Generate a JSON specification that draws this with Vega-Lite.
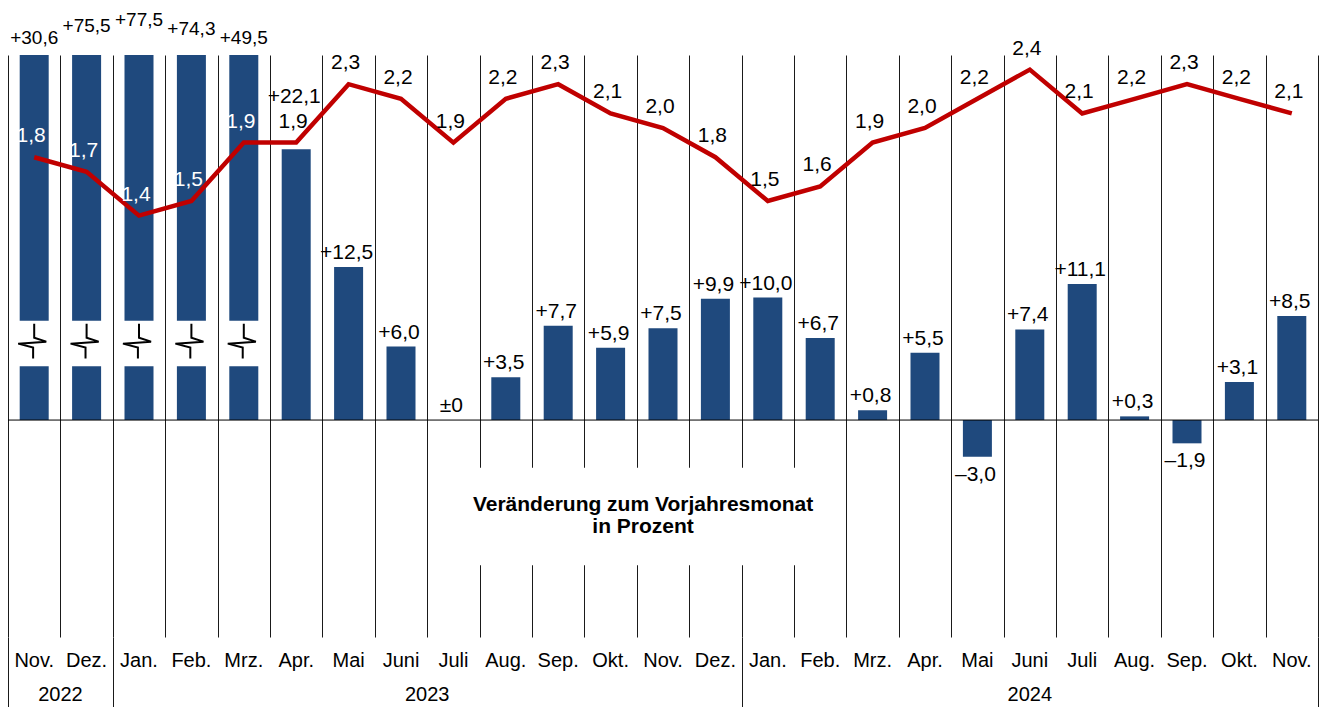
{
  "$schema": "https://vega.github.io/schema/vega-lite/v6.json",
  "width": 1310,
  "height": 582,
  "autosize": {"type": "none"},
  "padding": {"left": 8, "right": 10, "top": 55, "bottom": 70},
  "background": "white",
  "config": {
    "view": {"stroke": null},
    "font": "Liberation Sans",
    "locale": {"number": {"decimal": ",", "thousands": ".", "grouping": [3], "currency": ["", " €"], "minus": "–"}}
  },
  "data": {"values": [
    {"n": 1, "monat": "Nov.", "jahr": "2022", "v": 30.6, "inf": 1.8},
    {"n": 2, "monat": "Dez.", "jahr": "2022", "v": 75.5, "inf": 1.7},
    {"n": 3, "monat": "Jan.", "jahr": "2023", "v": 77.5, "inf": 1.4},
    {"n": 4, "monat": "Feb.", "jahr": "2023", "v": 74.3, "inf": 1.5},
    {"n": 5, "monat": "Mrz.", "jahr": "2023", "v": 49.5, "inf": 1.9},
    {"n": 6, "monat": "Apr.", "jahr": "2023", "v": 22.1, "inf": 1.9},
    {"n": 7, "monat": "Mai", "jahr": "2023", "v": 12.5, "inf": 2.3},
    {"n": 8, "monat": "Juni", "jahr": "2023", "v": 6.0, "inf": 2.2},
    {"n": 9, "monat": "Juli", "jahr": "2023", "v": 0.0, "inf": 1.9},
    {"n": 10, "monat": "Aug.", "jahr": "2023", "v": 3.5, "inf": 2.2},
    {"n": 11, "monat": "Sep.", "jahr": "2023", "v": 7.7, "inf": 2.3},
    {"n": 12, "monat": "Okt.", "jahr": "2023", "v": 5.9, "inf": 2.1},
    {"n": 13, "monat": "Nov.", "jahr": "2023", "v": 7.5, "inf": 2.0},
    {"n": 14, "monat": "Dez.", "jahr": "2023", "v": 9.9, "inf": 1.8},
    {"n": 15, "monat": "Jan.", "jahr": "2024", "v": 10.0, "inf": 1.5},
    {"n": 16, "monat": "Feb.", "jahr": "2024", "v": 6.7, "inf": 1.6},
    {"n": 17, "monat": "Mrz.", "jahr": "2024", "v": 0.8, "inf": 1.9},
    {"n": 18, "monat": "Apr.", "jahr": "2024", "v": 5.5, "inf": 2.0},
    {"n": 19, "monat": "Mai", "jahr": "2024", "v": -3.0, "inf": 2.2},
    {"n": 20, "monat": "Juni", "jahr": "2024", "v": 7.4, "inf": 2.4},
    {"n": 21, "monat": "Juli", "jahr": "2024", "v": 11.1, "inf": 2.1},
    {"n": 22, "monat": "Aug.", "jahr": "2024", "v": 0.3, "inf": 2.2},
    {"n": 23, "monat": "Sep.", "jahr": "2024", "v": -1.9, "inf": 2.3},
    {"n": 24, "monat": "Okt.", "jahr": "2024", "v": 3.1, "inf": 2.2},
    {"n": 25, "monat": "Nov.", "jahr": "2024", "v": 8.5, "inf": 2.1}
  ]},
  "resolve": {"scale": {"y": "independent"}},
  "layer": [
    {
      "layer": [
        {
          "mark": {"type": "bar", "orient": "vertical", "width": 29, "color": "#1f497d", "clip": true},
          "encoding": {
            "x": {"field": "n", "type": "quantitative", "title": null,
              "scale": {"domain": [0.5, 25.5], "nice": false, "zero": false, "padding": 0},
              "axis": {"values": [0.5, 1.5, 2.5, 3.5, 4.5, 5.5, 6.5, 7.5, 8.5, 9.5, 10.5, 11.5, 12.5, 13.5, 14.5, 15.5, 16.5, 17.5, 18.5, 19.5, 20.5, 21.5, 22.5, 23.5, 24.5, 25.5],
                "grid": true, "gridColor": "#1a1a1a", "gridWidth": 1, "gridOpacity": 1,
                "domain": false, "labels": false, "ticks": true, "tickSize": 70, "tickColor": "#1a1a1a", "tickWidth": 1,
                "tickOpacity": {"condition": {"test": "datum.value == 0.5 || datum.value == 2.5 || datum.value == 14.5 || datum.value == 25.5", "value": 1}, "value": 0}}},
            "y": {"field": "v", "type": "quantitative", "stack": null, "axis": null,
              "scale": {"domain": [-17.71, 29.8], "nice": false, "zero": false, "padding": 0}}
          }
        },
        {
          "transform": [{"filter": "datum.v > 29.8"}],
          "mark": {"type": "bar", "orient": "vertical", "width": 33, "color": "white"},
          "encoding": {
            "x": {"field": "n", "type": "quantitative", "title": null, "scale": {"domain": [0.5, 25.5], "nice": false, "zero": false, "padding": 0}},
            "y": {"datum": 8.1, "axis": null, "scale": {"domain": [-17.71, 29.8], "nice": false, "zero": false, "padding": 0}},
            "y2": {"datum": 4.4}
          }
        },
        {
          "transform": [{"filter": "datum.v > 29.8"}],
          "mark": {"type": "point", "shape": "M0,-1L0,-0.22L0.67,0L-0.89,0.11L-0.06,0.33L-0.06,0.94", "size": 1296, "filled": false, "stroke": "black", "strokeWidth": 2, "opacity": 1},
          "encoding": {
            "x": {"field": "n", "type": "quantitative", "title": null, "scale": {"domain": [0.5, 25.5], "nice": false, "zero": false, "padding": 0}},
            "y": {"datum": 6.4, "axis": null, "scale": {"domain": [-17.71, 29.8], "nice": false, "zero": false, "padding": 0}}
          }
        },
        {
          "data": {"values": [{}]},
          "mark": {"type": "rule", "color": "black", "strokeWidth": 1},
          "encoding": {
            "y": {"datum": 0, "axis": null, "scale": {"domain": [-17.71, 29.8], "nice": false, "zero": false, "padding": 0}}
          }
        },
        {
          "data": {"values": [{}]},
          "mark": {"type": "rect", "color": "white"},
          "encoding": {
            "x": {"datum": 9.05, "title": null, "scale": {"domain": [0.5, 25.5], "nice": false, "zero": false, "padding": 0}},
            "x2": {"datum": 15.95},
            "y": {"datum": -3.9, "axis": null, "scale": {"domain": [-17.71, 29.8], "nice": false, "zero": false, "padding": 0}},
            "y2": {"datum": -11.85}
          }
        },
        {
          "data": {"values": [{}]},
          "mark": {"type": "text", "text": ["Veränderung zum Vorjahresmonat", "in Prozent"], "fontWeight": "bold", "fontSize": 21, "lineHeight": 22, "baseline": "middle", "align": "center", "color": "black"},
          "encoding": {
            "x": {"datum": 12.62, "title": null, "scale": {"domain": [0.5, 25.5], "nice": false, "zero": false, "padding": 0}},
            "y": {"datum": -6.94, "axis": null, "scale": {"domain": [-17.71, 29.8], "nice": false, "zero": false, "padding": 0}}
          }
        },
        {
          "transform": [{"filter": "datum.v >= 0 && datum.v < 29.8 && datum.n != 6"}],
          "mark": {"type": "text", "fontSize": 21, "baseline": "alphabetic", "align": "center", "dy": -8, "dx": -2, "color": "black"},
          "encoding": {
            "x": {"field": "n", "type": "quantitative", "title": null, "scale": {"domain": [0.5, 25.5], "nice": false, "zero": false, "padding": 0}},
            "y": {"field": "v", "type": "quantitative", "axis": null, "scale": {"domain": [-17.71, 29.8], "nice": false, "zero": false, "padding": 0}},
            "text": {"condition": {"test": "datum.v == 0", "value": "±0"}, "field": "v", "type": "quantitative", "format": "+.1f"}
          }
        },
        {
          "transform": [{"filter": "datum.v < 0"}],
          "mark": {"type": "text", "fontSize": 21, "baseline": "alphabetic", "align": "center", "dy": 24, "dx": -2, "color": "black"},
          "encoding": {
            "x": {"field": "n", "type": "quantitative", "title": null, "scale": {"domain": [0.5, 25.5], "nice": false, "zero": false, "padding": 0}},
            "y": {"field": "v", "type": "quantitative", "axis": null, "scale": {"domain": [-17.71, 29.8], "nice": false, "zero": false, "padding": 0}},
            "text": {"field": "v", "type": "quantitative", "format": "+.1f"}
          }
        },
        {
          "transform": [{"filter": "datum.n == 6"}],
          "mark": {"type": "text", "fontSize": 21, "baseline": "alphabetic", "align": "center", "dy": -46, "dx": -2, "color": "black"},
          "encoding": {
            "x": {"field": "n", "type": "quantitative", "title": null, "scale": {"domain": [0.5, 25.5], "nice": false, "zero": false, "padding": 0}},
            "y": {"field": "v", "type": "quantitative", "axis": null, "scale": {"domain": [-17.71, 29.8], "nice": false, "zero": false, "padding": 0}},
            "text": {"field": "v", "type": "quantitative", "format": "+.1f"}
          }
        },
        {
          "transform": [{"filter": "datum.n == 1 || datum.n == 5"}],
          "mark": {"type": "text", "fontSize": 19, "baseline": "alphabetic", "align": "center", "dy": -11, "color": "black"},
          "encoding": {
            "x": {"field": "n", "type": "quantitative", "title": null, "scale": {"domain": [0.5, 25.5], "nice": false, "zero": false, "padding": 0}},
            "y": {"datum": 29.8, "axis": null, "scale": {"domain": [-17.71, 29.8], "nice": false, "zero": false, "padding": 0}},
            "text": {"field": "v", "type": "quantitative", "format": "+.1f"}
          }
        },
        {
          "transform": [{"filter": "datum.n == 2"}],
          "mark": {"type": "text", "fontSize": 19, "baseline": "alphabetic", "align": "center", "dy": -23, "color": "black"},
          "encoding": {
            "x": {"field": "n", "type": "quantitative", "title": null, "scale": {"domain": [0.5, 25.5], "nice": false, "zero": false, "padding": 0}},
            "y": {"datum": 29.8, "axis": null, "scale": {"domain": [-17.71, 29.8], "nice": false, "zero": false, "padding": 0}},
            "text": {"field": "v", "type": "quantitative", "format": "+.1f"}
          }
        },
        {
          "transform": [{"filter": "datum.n == 3"}],
          "mark": {"type": "text", "fontSize": 19, "baseline": "alphabetic", "align": "center", "dy": -29, "color": "black"},
          "encoding": {
            "x": {"field": "n", "type": "quantitative", "title": null, "scale": {"domain": [0.5, 25.5], "nice": false, "zero": false, "padding": 0}},
            "y": {"datum": 29.8, "axis": null, "scale": {"domain": [-17.71, 29.8], "nice": false, "zero": false, "padding": 0}},
            "text": {"field": "v", "type": "quantitative", "format": "+.1f"}
          }
        },
        {
          "transform": [{"filter": "datum.n == 4"}],
          "mark": {"type": "text", "fontSize": 19, "baseline": "alphabetic", "align": "center", "dy": -20, "color": "black"},
          "encoding": {
            "x": {"field": "n", "type": "quantitative", "title": null, "scale": {"domain": [0.5, 25.5], "nice": false, "zero": false, "padding": 0}},
            "y": {"datum": 29.8, "axis": null, "scale": {"domain": [-17.71, 29.8], "nice": false, "zero": false, "padding": 0}},
            "text": {"field": "v", "type": "quantitative", "format": "+.1f"}
          }
        },
        {
          "mark": {"type": "text", "fontSize": 20, "baseline": "middle", "align": "center", "color": "black"},
          "encoding": {
            "x": {"field": "n", "type": "quantitative", "title": null, "scale": {"domain": [0.5, 25.5], "nice": false, "zero": false, "padding": 0}},
            "y": {"datum": -19.67, "axis": null, "scale": {"domain": [-17.71, 29.8], "nice": false, "zero": false, "padding": 0}},
            "text": {"field": "monat", "type": "nominal"}
          }
        },
        {
          "mark": {"type": "text", "fontSize": 20, "baseline": "middle", "align": "center", "color": "black"},
          "encoding": {
            "x": {"aggregate": "mean", "field": "n", "type": "quantitative", "title": null, "scale": {"domain": [0.5, 25.5], "nice": false, "zero": false, "padding": 0}},
            "y": {"datum": -22.45, "axis": null, "scale": {"domain": [-17.71, 29.8], "nice": false, "zero": false, "padding": 0}},
            "text": {"field": "jahr", "type": "nominal"}
          }
        }
      ]
    },
    {
      "layer": [
        {
          "mark": {"type": "line", "color": "#c00000", "strokeWidth": 4.5},
          "encoding": {
            "x": {"field": "n", "type": "quantitative", "title": null, "scale": {"domain": [0.5, 25.5], "nice": false, "zero": false, "padding": 0}},
            "y": {"field": "inf", "type": "quantitative", "axis": null, "scale": {"domain": [-1.486, 2.5], "nice": false, "zero": false, "padding": 0}}
          }
        },
        {
          "mark": {"type": "text", "fontSize": 21, "baseline": "alphabetic", "align": "center", "dy": -15, "dx": -3},
          "encoding": {
            "x": {"field": "n", "type": "quantitative", "title": null, "scale": {"domain": [0.5, 25.5], "nice": false, "zero": false, "padding": 0}},
            "y": {"field": "inf", "type": "quantitative", "axis": null, "scale": {"domain": [-1.486, 2.5], "nice": false, "zero": false, "padding": 0}},
            "text": {"field": "inf", "type": "quantitative", "format": ".1f"},
            "color": {"condition": {"test": "datum.v > 29.8", "value": "white"}, "value": "black"}
          }
        }
      ]
    }
  ]
}
